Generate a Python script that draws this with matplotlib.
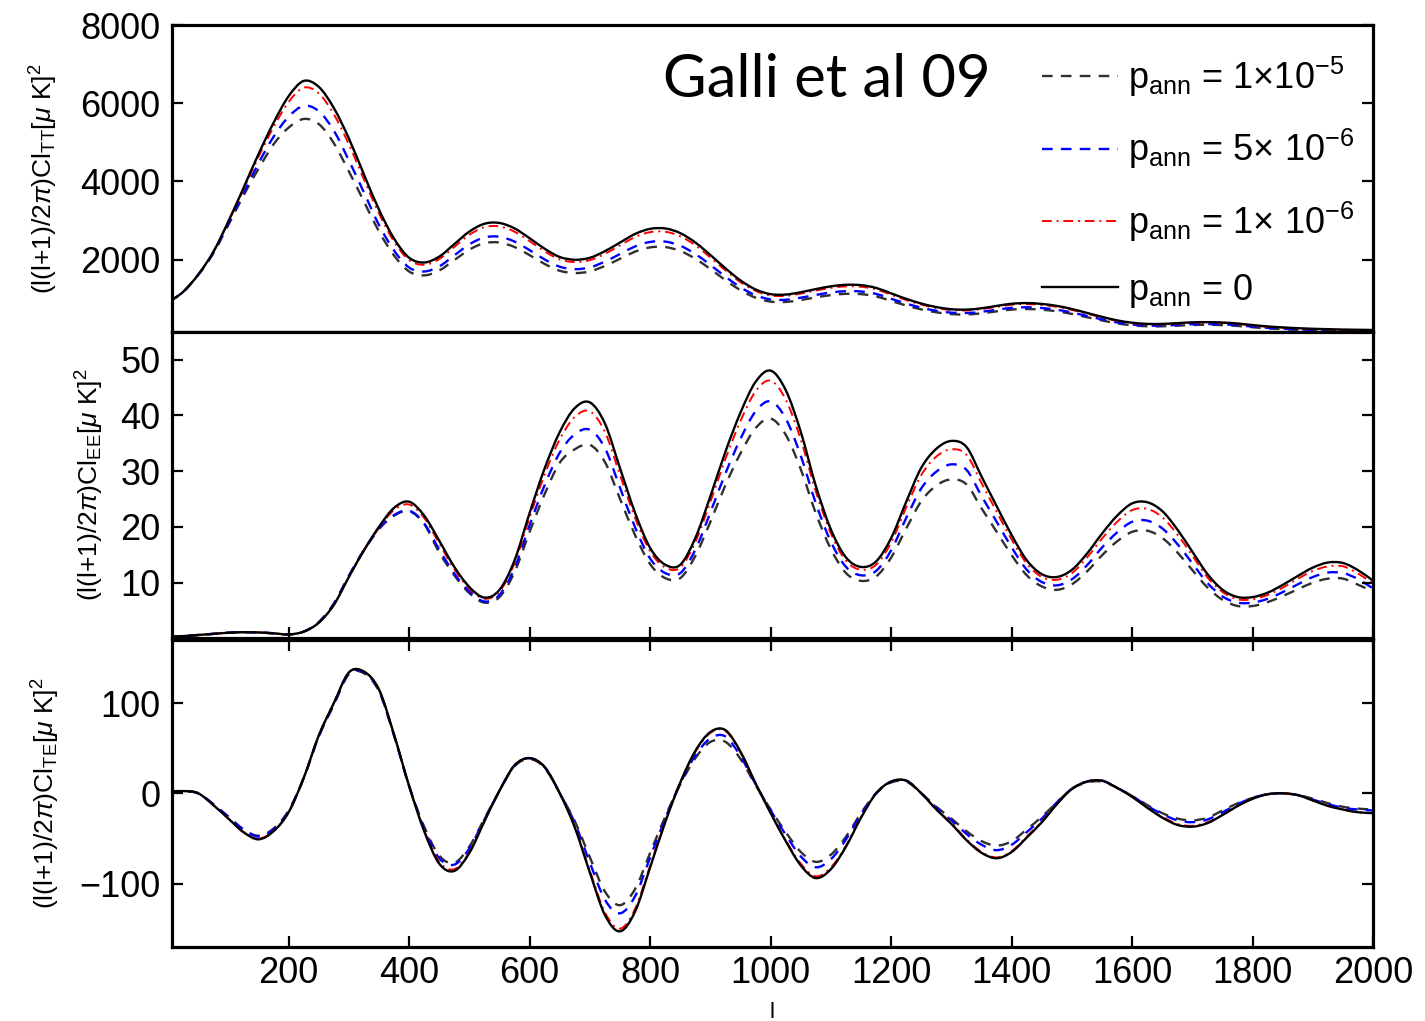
import numpy as np
import matplotlib
matplotlib.use("Agg")
import matplotlib.pyplot as plt
from matplotlib.path import Path
from matplotlib.patches import PathPatch
from matplotlib.lines import Line2D

plt.rcParams['font.family'] = ['Liberation Sans', 'DejaVu Sans']
plt.rcParams['mathtext.fontset'] = 'custom'
plt.rcParams['mathtext.rm'] = 'Liberation Sans'
plt.rcParams['mathtext.it'] = 'Liberation Sans:italic'
plt.rcParams['mathtext.bf'] = 'Liberation Sans:bold'

# multipole grid
ell = np.r_[2, np.arange(25, 2001, 25)]

# TT spectrum, (l(l+1)/2pi) Cl [uK^2]
tt_1e5 = [930, 1180, 1612, 2167, 2891, 3638, 4324, 4950, 5377, 5598,
          5470, 4980, 4258, 3490, 2722, 2108, 1700, 1600, 1726, 1992,
          2258, 2424, 2440, 2324, 2117, 1892, 1718, 1660, 1702, 1843,
          2025, 2208, 2316, 2324, 2224, 2025, 1760, 1477, 1220, 1029,
          930, 921, 971, 1038, 1096, 1129, 1121, 1062, 946, 830,
          730, 656, 610, 602, 631, 681, 726, 740, 722, 681,
          614, 531, 448, 374, 324, 299, 299, 315, 332, 336,
          328, 307, 274, 245, 224, 208, 195, 187, 178, 174,
          170]
tt_5e6 = [930, 1180, 1615, 2178, 2920, 3696, 4465, 5143, 5655, 5933,
          5797, 5300, 4539, 3720, 2886, 2235, 1800, 1700, 1830, 2112,
          2394, 2570, 2587, 2464, 2244, 2006, 1822, 1760, 1804, 1954,
          2147, 2341, 2455, 2464, 2358, 2147, 1866, 1566, 1294, 1091,
          986, 977, 1030, 1100, 1162, 1197, 1188, 1126, 1003, 880,
          774, 695, 647, 638, 669, 722, 770, 785, 766, 722,
          651, 563, 475, 396, 343, 317, 317, 334, 352, 356,
          348, 326, 290, 260, 238, 220, 207, 198, 189, 185,
          180]
tt_1e6 = [930, 1180, 1620, 2196, 2965, 3792, 4630, 5390, 6032, 6399,
          6253, 5720, 4947, 4055, 3182, 2464, 1990, 1872, 2018, 2328,
          2638, 2832, 2852, 2716, 2474, 2212, 2008, 1940, 1989, 2153,
          2367, 2580, 2706, 2716, 2600, 2367, 2056, 1727, 1426, 1203,
          1086, 1077, 1135, 1213, 1280, 1319, 1310, 1242, 1106, 970,
          854, 766, 713, 703, 737, 795, 849, 865, 844, 795,
          718, 621, 524, 437, 378, 349, 349, 369, 388, 393,
          383, 359, 320, 286, 262, 243, 228, 218, 209, 204,
          199]
tt_0 = [930, 1180, 1620, 2200, 2980, 3830, 4700, 5500, 6180, 6570,
        6420, 5880, 5100, 4180, 3280, 2540, 2050, 1930, 2080, 2400,
        2720, 2920, 2940, 2800, 2550, 2280, 2070, 2000, 2050, 2220,
        2440, 2660, 2790, 2800, 2680, 2440, 2120, 1780, 1470, 1240,
        1120, 1110, 1170, 1250, 1320, 1360, 1350, 1280, 1140, 1000,
        880, 790, 735, 725, 760, 820, 875, 892, 870, 820,
        740, 640, 540, 450, 390, 360, 360, 380, 400, 405,
        395, 370, 330, 295, 270, 250, 235, 225, 215, 210,
        205]

# EE spectrum
ee_1e5 = [0.3, 0.4, 0.6, 0.8, 1.0, 1.1, 1.05, 0.9, 0.7, 1.2,
          2.9, 6.2, 11.2, 15.8, 19.6, 22.0, 22.8, 20.5, 15.4, 11.3,
          8.1, 6.4, 7.4, 11.9, 19.1, 25.9, 31.5, 33.9, 34.7, 31.6,
          25.0, 18.5, 13.3, 10.8, 10.8, 14.8, 20.9, 27.5, 33.2, 37.7,
          39.4, 36.5, 30.3, 22.4, 16.0, 11.7, 10.3, 11.1, 14.5, 19.7,
          24.6, 27.4, 28.5, 27.6, 23.3, 19.1, 14.9, 11.3, 9.3, 8.7,
          9.7, 12.0, 14.9, 17.4, 19.1, 19.3, 18.0, 15.4, 12.2, 9.1,
          6.9, 5.8, 5.8, 6.5, 7.6, 8.8, 10.0, 10.7, 10.7, 9.6,
          8.4]
ee_5e6 = [0.3, 0.4, 0.6, 0.8, 1.0, 1.1, 1.05, 0.9, 0.7, 1.2,
          2.9, 6.2, 11.2, 15.8, 19.7, 22.1, 22.9, 20.6, 15.9, 11.6,
          8.4, 6.6, 7.8, 12.6, 20.3, 27.5, 33.3, 36.6, 37.4, 34.1,
          27.0, 19.9, 14.3, 11.7, 11.7, 15.9, 22.6, 29.6, 35.8, 40.7,
          42.5, 39.4, 32.7, 24.2, 17.3, 12.8, 11.3, 12.1, 15.8, 21.6,
          26.9, 29.9, 31.2, 30.2, 25.5, 20.9, 16.3, 12.3, 10.1, 9.5,
          10.6, 13.1, 16.3, 19.0, 20.9, 21.1, 19.7, 16.9, 13.4, 9.9,
          7.5, 6.4, 6.4, 7.1, 8.3, 9.7, 11.0, 11.8, 11.7, 10.6,
          8.9]
ee_1e6 = [0.3, 0.4, 0.6, 0.8, 1.0, 1.1, 1.05, 0.9, 0.7, 1.2,
          2.8, 6.0, 11.0, 15.7, 19.8, 23.0, 24.0, 21.6, 17.0, 12.4,
          8.9, 7.1, 8.4, 13.5, 21.7, 29.4, 35.7, 39.7, 40.7, 37.0,
          29.3, 21.6, 15.6, 12.7, 12.7, 17.3, 24.5, 32.2, 39.0, 44.3,
          46.2, 42.8, 35.6, 26.3, 18.8, 13.9, 12.3, 13.2, 17.2, 23.5,
          29.3, 32.6, 33.9, 32.9, 27.8, 22.7, 17.7, 13.4, 11.0, 10.5,
          11.7, 14.5, 17.9, 20.9, 23.0, 23.2, 21.7, 18.6, 14.8, 10.9,
          8.3, 7.0, 7.0, 7.8, 9.1, 10.7, 12.1, 12.9, 12.9, 11.6,
          9.8]
ee_0 = [0.3, 0.4, 0.6, 0.8, 1.0, 1.1, 1.05, 0.9, 0.7, 1.2,
        2.8, 6.0, 11.0, 15.8, 20.0, 23.4, 24.5, 22.0, 17.5, 12.8,
        9.2, 7.3, 8.7, 14.0, 22.5, 30.5, 37.0, 41.3, 42.3, 38.5,
        30.5, 22.5, 16.2, 13.2, 13.2, 18.0, 25.5, 33.5, 40.5, 46.0,
        48.0, 44.5, 37.0, 27.3, 19.5, 14.5, 12.8, 13.8, 18.0, 24.5,
        30.6, 34.0, 35.4, 34.3, 29.0, 23.7, 18.5, 14.0, 11.5, 11.0,
        12.3, 15.2, 18.8, 22.0, 24.2, 24.4, 22.8, 19.5, 15.5, 11.5,
        8.7, 7.4, 7.4, 8.2, 9.6, 11.2, 12.7, 13.6, 13.5, 12.2,
        10.3]

# TE spectrum
te_1e5 = [1.8, 2.5, 0, -12, -26, -40, -47, -39, -19, 17,
          63, 98, 132, 133, 113, 64, 8, -37, -69, -77,
          -59, -28, 3, 30, 38, 28, 0, -31, -71, -109,
          -124, -106, -66, -26, 10, 39, 57, 57, 38, 9,
          -18, -43, -65, -76, -68, -48, -22, 0, 12, 13,
          0, -15, -28, -42, -53, -58, -53, -40, -26, -10,
          5, 12, 13, 6, -3, -13, -22, -28, -30, -27,
          -19, -11, -5, -1, 0, -2, -6, -11, -15, -17,
          -18]
te_5e6 = [1.8, 2.5, 0, -12, -26, -40, -48, -40, -20, 17,
          63, 99, 133, 134, 114, 64, 8, -39, -72, -79,
          -61, -29, 3, 31, 39, 29, 0, -33, -77, -118,
          -133, -114, -71, -28, 11, 42, 61, 63, 41, 10,
          -19, -46, -70, -82, -73, -51, -23, 0, 13, 14,
          0, -16, -30, -45, -57, -63, -57, -43, -28, -10,
          5, 13, 14, 6, -3, -14, -23, -30, -32, -29,
          -21, -12, -5, -1, 0, -2, -7, -12, -16, -18,
          -19]
te_1e6 = [1.8, 2.5, 0, -13, -28, -43, -50, -42, -21, 17,
          64, 100, 134, 135, 115, 65, 8, -41, -76, -84,
          -65, -30, 3, 31, 39, 29, 0, -37, -86, -132,
          -150, -128, -80, -31, 12, 46, 67, 69, 45, 11,
          -22, -52, -78, -92, -82, -58, -26, 0, 13, 14,
          0, -18, -33, -51, -65, -71, -64, -48, -31, -12,
          5, 13, 14, 6, -4, -16, -26, -34, -36, -32,
          -24, -14, -6, -1, 0, -2, -8, -14, -18, -21,
          -22]
te_0 = [1.8, 2.5, 0, -13, -28, -43, -51, -42, -21, 17,
        64, 100, 134, 135, 115, 65, 8, -42, -78, -86,
        -66, -31, 3, 31, 39, 29, 0, -38, -88, -135,
        -153, -131, -82, -32, 12, 47, 68, 70, 46, 11,
        -22, -53, -80, -94, -84, -59, -27, 0, 13, 14,
        0, -18, -34, -52, -66, -72, -65, -49, -32, -12,
        5, 13, 14, 6, -4, -16, -27, -35, -37, -33,
        -24, -14, -6, -1, 0, -2, -8, -14, -18, -21,
        -22]

labels = [r'$\mathrm{p_{ann}}$ = 1$\times$10$^{-5}$',
          r'$\mathrm{p_{ann}}$ = 5$\times$ 10$^{-6}$',
          r'$\mathrm{p_{ann}}$ = 1$\times$ 10$^{-6}$',
          r'$\mathrm{p_{ann}}$ = 0']

styles = [dict(color='#303030', ls=(0, (4.5, 3.5)), lw=1.7),
          dict(color='#0000ff', ls=(0, (4.5, 3.5)), lw=1.7),
          dict(color='#ff0000', ls=(0, (5, 2.5, 1, 2.5)), lw=1.4),
          dict(color='black', ls='-', lw=1.7)]


def curve_path(x, y):
    # cubic bezier through the read points (catmull-rom tangents)
    x = np.asarray(x, float)
    y = np.asarray(y, float)
    n = len(x)
    verts = [(x[0], y[0])]
    codes = [Path.MOVETO]
    for i in range(n - 1):
        a = max(i - 1, 0)
        b = min(i + 2, n - 1)
        verts.append((x[i] + (x[i + 1] - x[a]) / 6, y[i] + (y[i + 1] - y[a]) / 6))
        verts.append((x[i + 1] - (x[b] - x[i]) / 6, y[i + 1] - (y[b] - y[i]) / 6))
        verts.append((x[i + 1], y[i + 1]))
        codes += [Path.CURVE4] * 3
    return Path(verts, codes)


fig = plt.figure(figsize=(14.25, 10.21), dpi=100)
L, W, H = 0.1205, 0.8432, 0.3004
ax1 = fig.add_axes([L, 0.6751, W, H])
ax2 = fig.add_axes([L, 0.3748, W, H])
ax3 = fig.add_axes([L, 0.0728, W, H])

panels = [(ax1, [tt_1e5, tt_5e6, tt_1e6, tt_0]),
          (ax2, [ee_1e5, ee_5e6, ee_1e6, ee_0]),
          (ax3, [te_1e5, te_5e6, te_1e6, te_0])]

for ax, series in panels:
    for ys, st in zip(series, styles):
        ax.add_patch(PathPatch(curve_path(ell, ys), fill=False,
                               edgecolor=st['color'], linestyle=st['ls'],
                               linewidth=st['lw'], capstyle='butt'))
    ax.set_xlim(6, 2000)
    for s in ax.spines.values():
        s.set_linewidth(2.3)
    ax.tick_params(direction='in', length=8, width=1.6, labelsize=26,
                   left=True, right=True, pad=8)

ax1.set_ylim(160, 8000)
ax1.set_yticks([2000, 4000, 6000, 8000])
ax1.set_xticks([])

ax2.set_ylim(0, 55)
ax2.set_yticks([10, 20, 30, 40, 50])
ax2.set_xticks(np.arange(200, 2001, 200))
ax2.tick_params(axis='x', bottom=True, top=False, labelbottom=False)

ax3.set_ylim(-170, 170)
ax3.set_yticks([-100, 0, 100])
ax3.set_xticks(np.arange(200, 2001, 200))
ax3.tick_params(axis='x', bottom=True, top=True, labelbottom=True, pad=7)

ylab_kw = dict(fontsize=19)
ax1.set_ylabel(r'(l(l+1)/2$\pi$)Cl$_{\mathrm{TT}}$[$\mu$ K]$^{2}$', **ylab_kw)
ax2.set_ylabel(r'(l(l+1)/2$\pi$)Cl$_{\mathrm{EE}}$[$\mu$ K]$^{2}$', **ylab_kw)
ax3.set_ylabel(r'(l(l+1)/2$\pi$)Cl$_{\mathrm{TE}}$[$\mu$ K]$^{2}$', **ylab_kw)
ax1.yaxis.set_label_coords(-0.093, 0.5)
ax2.yaxis.set_label_coords(-0.055, 0.5)
ax3.yaxis.set_label_coords(-0.091, 0.5)

ax3.set_xlabel('l', fontsize=16)
ax3.xaxis.set_label_coords(0.5, -0.18)

fig.text(663 / 1425, 1 - 97 / 1021, 'Galli et al 09', fontsize=43,
         family=['Lato', 'DejaVu Sans'], va='baseline', ha='left')

handles = [Line2D([], [], color=st['color'], ls=st['ls'], lw=st['lw'])
           for st in styles]
ax1.legend(handles, labels, loc='upper left', bbox_to_anchor=(0.712, 0.95),
           frameon=False, fontsize=26, handlelength=2.1, handletextpad=0.3,
           labelspacing=0.78, borderaxespad=0)

fig.savefig('out.png', dpi=100)
